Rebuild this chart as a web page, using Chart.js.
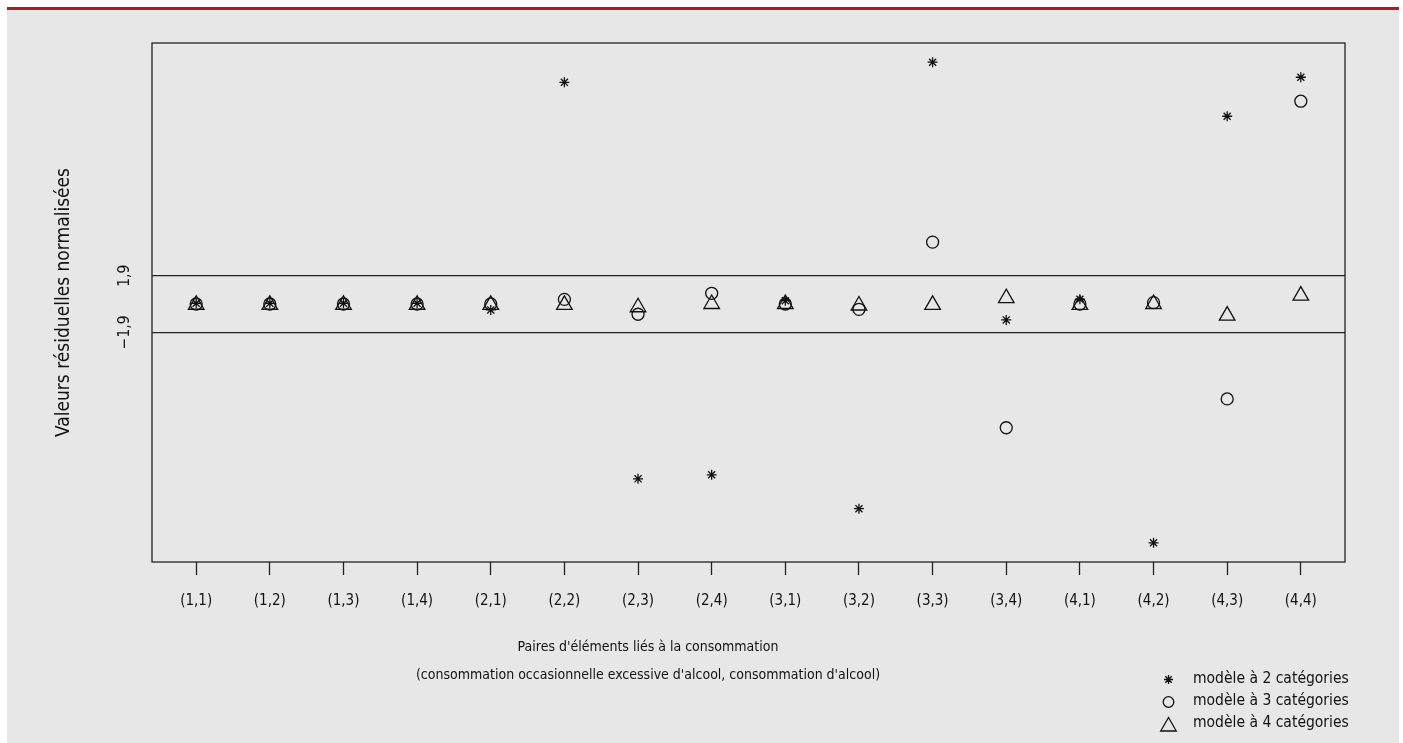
<!DOCTYPE html>
<html lang="fr">
<head>
    <meta charset="UTF-8">
    <title>Valeurs résiduelles normalisées</title>
    <style>
        body { margin: 0; background: #fff; }
        .page { position: relative; width: 1403px; height: 743px; overflow: hidden; }
        .panel { position: absolute; left: 7px; top: 7px; width: 1392px; height: 736px; box-sizing: border-box;
                 background: #e6e7e6; border-top: 3px solid #a8201e; }
        canvas { position: absolute; left: 0; top: 0; }
    </style>
    <script src="https://cdn.jsdelivr.net/npm/chart.js@4"></script>
</head>
<body>
    <div class="page">
        <div class="panel"></div>
        <canvas id="chart" width="1403" height="743"></canvas>
    </div>

    <script>
        // paires d'éléments (consommation occasionnelle excessive, consommation)
        const categories = ['(1,1)', '(1,2)', '(1,3)', '(1,4)', '(2,1)', '(2,2)', '(2,3)', '(2,4)',
                            '(3,1)', '(3,2)', '(3,3)', '(3,4)', '(4,1)', '(4,2)', '(4,3)', '(4,4)'];
        // valeurs résiduelles normalisées par modèle
        const model2 = [0.05, 0.05, 0.05, 0.05, -0.4, 14.9, -11.75, -11.48,
                        0.22, -13.76, 16.25, -1.07, 0.32, -16.05, 12.62, 15.24];
        const model3 = [0.0, 0.0, 0.0, 0.0, 0.0, 0.31, -0.69, 0.72,
                        0.0, -0.36, 4.16, -8.32, 0.0, 0.09, -6.38, 13.63];
        const model4 = [-0.05, -0.05, -0.05, -0.05, -0.06, -0.06, -0.22, 0.0,
                        0.0, -0.1, -0.06, 0.39, -0.06, 0.0, -0.78, 0.56];
        const yTicks = [-1.9, 1.9];
        const yTickLabels = ['\u22121,9', '1,9'];
        const seriesNames = ['modèle à 2 catégories', 'modèle à 3 catégories', 'modèle à 4 catégories'];
        const xTitleLines = ["Paires d'éléments liés à la consommation",
                             "(consommation occasionnelle excessive d'alcool, consommation d'alcool)"];

        const NARROW = '"DejaVu Sans Condensed", "Liberation Sans Narrow", "Arial Narrow", sans-serif';
        const INK = '#111';

        function makeSeries(label, values, style, radius) {
            return {
                label: label,
                data: values.map((v, i) => ({ x: i + 1, y: v })),
                pointStyle: style,
                pointRadius: radius,
                pointBorderWidth: 1.3,
                borderColor: INK,
                backgroundColor: 'rgba(0,0,0,0)',
                showLine: false
            };
        }

        // R-style ylim: data range + 4%
        const allValues = model2.concat(model3, model4);
        const lo = Math.min(...allValues);
        const hi = Math.max(...allValues);
        const pad = (hi - lo) * 0.04;

        const framePlugin = {
            id: 'frame',
            beforeDatasetsDraw(chart) {
                const { ctx, chartArea: a } = chart;
                ctx.save();
                ctx.strokeStyle = '#222';
                ctx.lineWidth = 1.3;
                ctx.strokeRect(a.left, a.top, a.right - a.left, a.bottom - a.top);
                ctx.restore();
            }
        };

        const xTitlePlugin = {
            id: 'xTitle',
            afterDraw(chart) {
                const ctx = chart.ctx;
                ctx.save();
                ctx.fillStyle = INK;
                ctx.font = '14px ' + NARROW;
                ctx.textAlign = 'center';
                ctx.textBaseline = 'middle';
                ctx.fillText(xTitleLines[0], 648, 647);
                ctx.fillText(xTitleLines[1], 648, 675);
                ctx.restore();
            }
        };

        const legendPlugin = {
            id: 'symbolLegend',
            afterDraw(chart) {
                const ctx = chart.ctx;
                const rows = [
                    { y: 679, sy: 679.5, r: 4.5 },
                    { y: 701, sy: 702, r: 5.3 },
                    { y: 723, sy: 726.5, r: 9 }
                ];
                ctx.save();
                chart.data.datasets.forEach((ds, i) => {
                    const row = rows[i];
                    ctx.strokeStyle = INK;
                    ctx.fillStyle = 'rgba(0,0,0,0)';
                    ctx.lineWidth = 1.3;
                    if (Chart.helpers && Chart.helpers.drawPoint) {
                        Chart.helpers.drawPoint(ctx, { pointStyle: ds.pointStyle, radius: row.r, rotation: 0, borderWidth: 1.3 }, 1168.5, row.sy);
                    }
                    ctx.fillStyle = INK;
                    ctx.font = '15.5px ' + NARROW;
                    ctx.textAlign = 'left';
                    ctx.textBaseline = 'middle';
                    ctx.fillText(ds.label, 1193, row.y);
                });
                ctx.restore();
            }
        };

        const ctx = document.getElementById('chart').getContext('2d');
        new Chart(ctx, {
            type: 'scatter',
            data: {
                datasets: [
                    makeSeries(seriesNames[0], model2, 'star', 5),
                    makeSeries(seriesNames[1], model3, 'circle', 6),
                    makeSeries(seriesNames[2], model4, 'triangle', 9)
                ]
            },
            options: {
                responsive: false,
                animation: false,
                events: [],
                layout: { padding: { top: 43, right: 58, left: 0, bottom: 0 } },
                plugins: {
                    legend: { display: false },
                    tooltip: { enabled: false }
                },
                scales: {
                    x: {
                        type: 'linear',
                        min: 0.4,
                        max: categories.length + 0.6,
                        afterBuildTicks: s => { s.ticks = categories.map((c, i) => ({ value: i + 1 })); },
                        afterFit: s => { s.height = 181; },
                        ticks: {
                            callback: v => categories[Math.round(v) - 1],
                            font: { family: NARROW, size: 15 },
                            color: INK,
                            padding: 17,
                            maxRotation: 0,
                            autoSkip: false
                        },
                        grid: { drawOnChartArea: false, tickLength: 13, tickColor: '#222', tickWidth: 1.3 },
                        border: { display: false }
                    },
                    y: {
                        min: lo - pad,
                        max: hi + pad,
                        afterBuildTicks: s => { s.ticks = yTicks.map(v => ({ value: v })); },
                        afterFit: s => { s.width = 152; },
                        ticks: {
                            callback: (v, i) => yTickLabels[i],
                            minRotation: 90,
                            maxRotation: 90,
                            crossAlign: 'center',
                            padding: 10,
                            font: { family: NARROW, size: 15.5 },
                            color: INK
                        },
                        grid: { drawTicks: false, color: '#222', lineWidth: 1.3 },
                        border: { display: false },
                        title: {
                            display: true,
                            text: 'Valeurs résiduelles normalisées',
                            font: { family: NARROW, size: 19 },
                            color: INK,
                            padding: { top: 53, bottom: 0 }
                        }
                    }
                }
            },
            plugins: [framePlugin, xTitlePlugin, legendPlugin]
        });
    </script>
</body>
</html>
